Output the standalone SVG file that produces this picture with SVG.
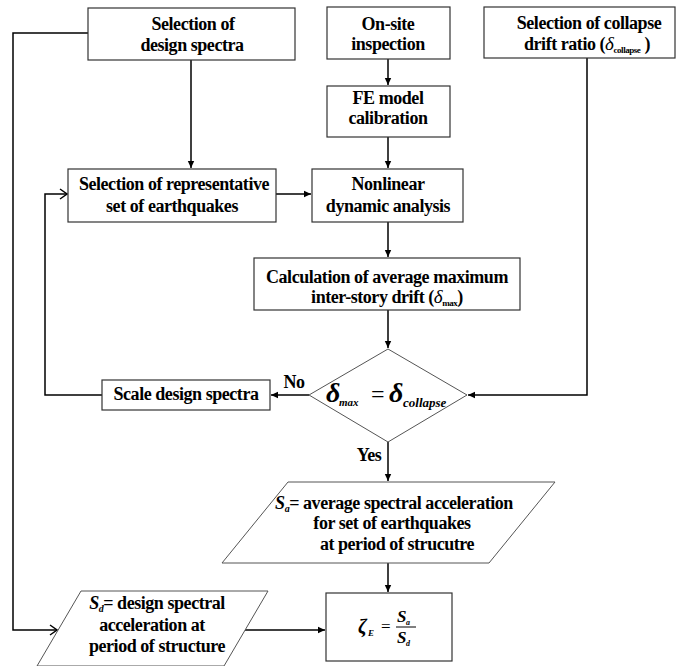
<svg xmlns="http://www.w3.org/2000/svg" width="681" height="666" viewBox="0 0 681 666">
<style>
.box{fill:#fff;stroke:#333;stroke-width:1.2}
.shape{fill:#fff;stroke:#555;stroke-width:1}
.t{font-family:"Liberation Serif","Times New Roman",serif;font-weight:bold;font-size:18px;letter-spacing:-0.45px;text-anchor:middle;fill:#000}
.m{font-family:"Liberation Serif","Times New Roman",serif;font-style:italic;font-weight:bold;fill:#000}
.c{fill:none;stroke:#000;stroke-width:1.5}
</style>
<defs>
<marker id="a" markerWidth="8" markerHeight="8" refX="7" refY="4" orient="auto" markerUnits="userSpaceOnUse">
<path d="M0,0.8 L7,4 L0,7.2 Z" fill="#000"/>
</marker>
<marker id="o" markerWidth="12" markerHeight="12" refX="11" refY="6" orient="auto" markerUnits="userSpaceOnUse">
<path d="M4,1 L11,6 L4,11" fill="none" stroke="#000" stroke-width="1.4"/>
</marker>
</defs>
<g id="connectors">
<line class="c" x1="191" y1="60" x2="191" y2="168" marker-end="url(#a)"/>
<line class="c" x1="388" y1="59" x2="388" y2="85" marker-end="url(#a)"/>
<line class="c" x1="388" y1="137" x2="388" y2="168" marker-end="url(#a)"/>
<line class="c" x1="276" y1="194" x2="311" y2="194" marker-end="url(#a)"/>
<line class="c" x1="388" y1="222" x2="388" y2="257" marker-end="url(#a)"/>
<line class="c" x1="388" y1="310" x2="388" y2="348" marker-end="url(#a)"/>
<polyline class="c" points="587,58 587,395 468,395" marker-end="url(#a)"/>
<line class="c" x1="309" y1="395" x2="271" y2="395" marker-end="url(#a)"/>
<polyline class="c" points="102,395 45,395 45,194 67,194" marker-end="url(#o)"/>
<line class="c" x1="388" y1="442" x2="388" y2="481" marker-end="url(#a)"/>
<line class="c" x1="388" y1="563" x2="388" y2="592" marker-end="url(#a)"/>
<polyline class="c" points="88,33 13,33 13,630 57,630" marker-end="url(#o)"/>
<line class="c" x1="245" y1="630" x2="325" y2="630" marker-end="url(#a)"/>
<text class="t" x="294" y="388">No</text>
<text class="t" x="369" y="461">Yes</text>
</g>
<g id="design-spectra">
<rect class="box" x="88" y="8" width="207" height="52"/>
<text class="t" x="193" y="30">Selection of</text>
<text class="t" x="192" y="51">design spectra</text>
</g>
<g id="on-site">
<rect class="box" x="327" y="7" width="123" height="52"/>
<text class="t" x="388" y="30">On-site</text>
<text class="t" x="388" y="50">inspection</text>
</g>
<g id="fe-model">
<rect class="box" x="327" y="86" width="123" height="51"/>
<text class="t" x="388" y="104">FE model</text>
<text class="t" x="388" y="124">calibration</text>
</g>
<g id="collapse">
<rect class="box" x="484" y="7" width="191" height="51"/>
<text class="t" x="589" y="29">Selection of collapse</text>
<text class="t" x="587" y="50">drift ratio (<tspan font-style="italic" font-weight="normal" font-size="19">δ</tspan><tspan font-size="9" dy="3">collapse</tspan><tspan dy="-3"> )</tspan></text>
</g>
<g id="representative">
<rect class="box" x="68" y="169" width="208" height="53"/>
<text class="t" x="174" y="190">Selection of representative</text>
<text class="t" x="172" y="212">set of earthquakes</text>
</g>
<g id="nonlinear">
<rect class="box" x="312" y="169" width="151" height="53"/>
<text class="t" x="388" y="190">Nonlinear</text>
<text class="t" x="388" y="212">dynamic analysis</text>
</g>
<g id="calculation">
<rect class="box" x="254" y="258" width="266" height="52"/>
<text class="t" x="387" y="283">Calculation of average maximum</text>
<text class="t" x="387" y="303">inter-story drift (<tspan font-style="italic" font-weight="normal" font-size="19">δ</tspan><tspan font-size="9" dy="3">max</tspan><tspan dy="-3">)</tspan></text>
</g>
<g id="decision">
<polygon class="shape" points="388,349 467,395 388,442 309,395"/>
<text class="m" x="326" y="402" font-size="28">δ</text>
<text class="m" x="339" y="406" font-size="11" font-style="normal">max</text>
<text x="371" y="402" font-family="Liberation Serif,serif" font-size="24">=</text>
<text class="m" x="389" y="402" font-size="28">δ</text>
<text class="m" x="403" y="407" font-size="13">collapse</text>
</g>
<g id="scale">
<rect class="box" x="102" y="380" width="168" height="30"/>
<text class="t" x="186" y="400">Scale design spectra</text>
</g>
<g id="sa">
<polygon class="shape" points="288,482 555,482 489,563 222,563"/>
<text class="t" x="394" y="509"><tspan class="m" font-size="18">S</tspan><tspan class="m" font-size="10" dy="3">a</tspan><tspan dy="-3">= average spectral acceleration</tspan></text>
<text class="t" x="392" y="529">for set of earthquakes</text>
<text class="t" x="397" y="550">at period of strucutre</text>
</g>
<g id="sd">
<polygon class="shape" points="81,591 268,591 224,666 37,666"/>
<text class="t" x="157" y="609"><tspan class="m" font-size="18">S</tspan><tspan class="m" font-size="10" dy="3">d</tspan><tspan dy="-3">= design spectral</tspan></text>
<text class="t" x="152" y="631">acceleration at</text>
<text class="t" x="157" y="652">period of structure</text>
</g>
<g id="ratio">
<rect class="box" x="326" y="593" width="126" height="68"/>
<text class="m" x="358" y="633" font-size="20" font-weight="normal">ζ</text>
<text class="m" x="368" y="636" font-size="9">E</text>
<text x="381" y="632" font-family="Liberation Serif,serif" font-size="17">=</text>
<text class="m" x="397" y="622" font-size="17">S</text>
<text class="m" x="406" y="625" font-size="8">a</text>
<line x1="396" y1="627" x2="416" y2="627" stroke="#000" stroke-width="1"/>
<text class="m" x="397" y="643" font-size="17">S</text>
<text class="m" x="406" y="646" font-size="8">d</text>
</g>
</svg>
